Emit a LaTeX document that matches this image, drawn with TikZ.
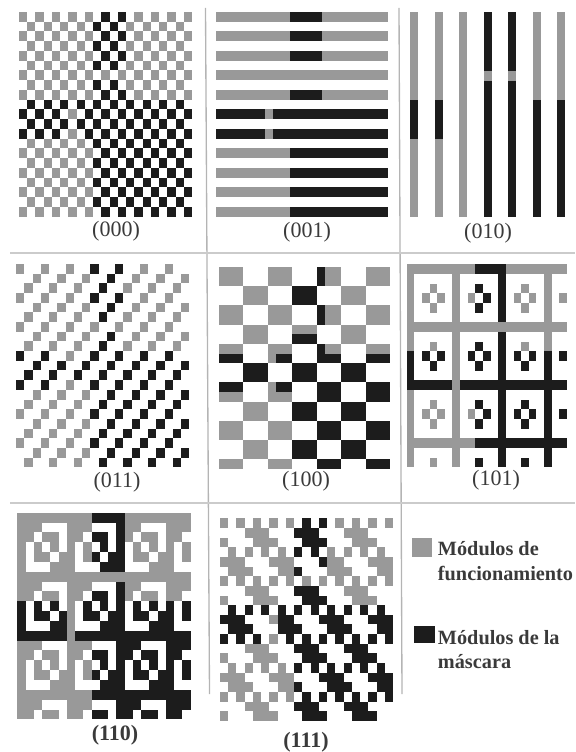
\documentclass[tikz,border=0pt]{standalone}
\usepackage{fontspec}
\setmainfont{Liberation Serif}
\definecolor{modgray}{HTML}{999999}
\definecolor{modblack}{HTML}{1C1C1C}
\definecolor{rulegray}{HTML}{B4B4B4}
\definecolor{inkgray}{HTML}{3A3A3A}

\begin{document}
\begin{tikzpicture}[
		x=0.75pt,
		y=-0.75pt,
		every node/.style={inner sep=0pt},
		funcmod/.style={fill=modgray},
		maskmod/.style={fill=modblack},
		masklabel/.style={font=\fontsize{16.5}{17}\selectfont,text=inkgray},
		masklabelbold/.style={font=\fontsize{16.5}{17}\selectfont\bfseries,text=inkgray},
		legendtext/.style={font=\fontsize{15.2}{17}\selectfont\bfseries,text=inkgray,anchor=base west},
		sepline/.style={draw=rulegray,line width=1pt}
		]
		
		\useasboundingbox (0,0) rectangle (575,752);
		
		% left, top, module width, module height, mask formula on row i and column j
		\def\MaskPanel#1#2#3#4#5{%
			\foreach \i in {0,...,20}{
				\foreach \j in {0,...,20}{
					\pgfmathtruncatemacro{\ModOn}{(#5) ? 1 : 0}
					\ifnum\ModOn=1
						\pgfmathtruncatemacro{\ModData}{((\i<=8)&&(\j>=9)&&(\j<=12)&&(\i!=6))||((\i>=9)&&(\i<=12)&&(\j!=6))||((\i>=13)&&(\j>=9)) ? 1 : 0}
						\ifnum\ModData=1
							\fill[maskmod] ({#1+\j*#3},{#2+\i*#4}) rectangle ++(#3,#4);
						\else
							\fill[funcmod] ({#1+\j*#3},{#2+\i*#4}) rectangle ++(#3,#4);
						\fi
					\fi
				}
			}
		}
		
		% Top row of masks.
		\MaskPanel{19}{12}{8.24}{9.75}{mod(\i+\j,2)==0}
		\MaskPanel{216}{12}{8.19}{9.75}{mod(\i,2)==0}
		\MaskPanel{410}{12.5}{8.17}{9.74}{mod(\j,3)==0}
		
		% Middle row of masks.
		\MaskPanel{16}{264}{8.25}{9.68}{mod(\i+\j,3)==0}
		\MaskPanel{219}{267}{8.14}{9.62}{mod(floor(\i/2)+floor(\j/3),2)==0}
		\MaskPanel{406.7}{264.3}{7.63}{9.67}{mod(\i*\j,2)+mod(\i*\j,3)==0}
		
		% Bottom row of masks.
		\MaskPanel{17.3}{512.7}{8.25}{9.84}{mod(mod(\i*\j,2)+mod(\i*\j,3),2)==0}
		\MaskPanel{220}{518.3}{8.24}{9.65}{mod(mod(\i+\j,2)+mod(\i*\j,3),2)==0}
		
		% Lines between the panels.
		\draw[sepline] (205.5,8) -- (209.5,694);
		\draw[sepline] (399,8) -- (402,694);
		\draw[sepline,draw=rulegray!70] (10,253) -- (575,253);
		\draw[sepline,draw=rulegray!70] (10,503) -- (575,503);
		
		% Mask names.
		\node[masklabel] (name000) at (116,231) {(000)};
		\node[masklabel] (name001) at (307,232) {(001)};
		\node[masklabel] (name010) at (488,233) {(010)};
		\node[masklabel] (name011) at (117,482) {(011)};
		\node[masklabel] (name100) at (306,481) {(100)};
		\node[masklabel] (name101) at (496,480) {(101)};
		\node[masklabelbold] (name110) at (115,735) {(110)};
		\node[masklabelbold] (name111) at (306,742) {(111)};
		
		% Legend.
		\node[funcmod,minimum width=15pt,minimum height=14.25pt] (swatchfunc) at (421.7,547.5) {};
		\node[maskmod,minimum width=15.75pt,minimum height=12.5pt] (swatchmask) at (424.5,634.3) {};
		\node[legendtext] (funcone) at (437.7,555) {Módulos de};
		\node[legendtext] (functwo) at (437.7,580) {funcionamiento};
		\node[legendtext] (maskone) at (437.7,644) {Módulos de la};
		\node[legendtext] (masktwo) at (437.7,668) {máscara};
		
	\end{tikzpicture}
\end{document}
